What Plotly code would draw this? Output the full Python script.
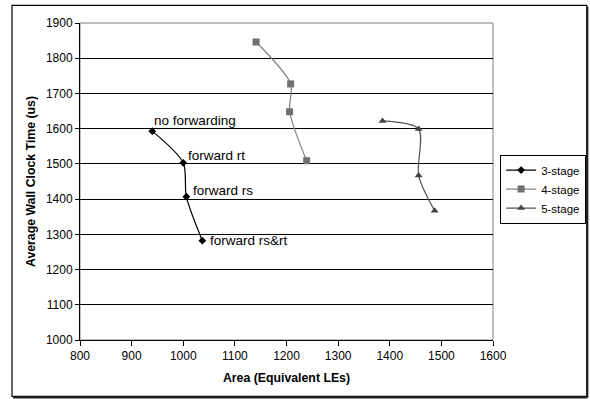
import plotly.graph_objects as go

# Area (equivalent LEs) vs average wall clock time (us) per pipeline depth
area_3stage = [940, 1000, 1006, 1037]
time_3stage = [1593, 1503, 1407, 1282]
labels_3stage = ["no forwarding", "forward rt", "forward rs", "forward rs&rt"]

area_4stage = [1141, 1208, 1206, 1239]
time_4stage = [1846, 1727, 1648, 1509]

area_5stage = [1386, 1456, 1456, 1487]
time_5stage = [1622, 1599, 1467, 1367]

x_ticks = list(range(800, 1601, 100))
y_ticks = list(range(1000, 1901, 100))

FONT = "Liberation Sans, Arial, sans-serif"

fig = go.Figure()

fig.add_trace(go.Scatter(
    x=area_3stage, y=time_3stage, name="3-stage", mode="lines+markers",
    line=dict(color="black", width=1.2, shape="spline", smoothing=0.8),
    marker=dict(symbol="diamond", size=6, color="black"),
))
fig.add_trace(go.Scatter(
    x=area_4stage, y=time_4stage, name="4-stage", mode="lines+markers",
    line=dict(color="#808080", width=1.2, shape="spline", smoothing=0.8),
    marker=dict(symbol="square", size=7, color="#707070"),
))
fig.add_trace(go.Scatter(
    x=area_5stage, y=time_5stage, name="5-stage", mode="lines+markers",
    line=dict(color="#555555", width=1.2, shape="spline", smoothing=0.8),
    marker=dict(symbol="triangle-up", size=7, color="#444444"),
))

# Point labels for the 3-stage variants
label_offsets = [(0, 11), (3, 7), (5, 6), (6, 0)]
for xv, yv, txt, (dx, dy) in zip(area_3stage, time_3stage, labels_3stage, label_offsets):
    fig.add_annotation(
        x=xv, y=yv, text=txt, showarrow=False, xanchor="left", yanchor="middle",
        xshift=dx, yshift=dy, font=dict(family=FONT, size=13.5, color="black"),
    )

# Chart-area frame with a slight shadow on the bottom/right
fig.add_shape(type="rect", xref="paper", yref="paper",
              x0=-0.1646, x1=1.2269, y0=-0.1776, y1=1.0557,
              line=dict(color="black", width=1.2), layer="below")
fig.add_shape(type="line", xref="paper", yref="paper",
              x0=-0.162, x1=1.2285, y0=-0.181, y1=-0.181,
              line=dict(color="#222222", width=2))
fig.add_shape(type="line", xref="paper", yref="paper",
              x0=1.2285, x1=1.2285, y0=-0.181, y1=1.052,
              line=dict(color="#222222", width=2))
# Plot-area border
fig.add_shape(type="rect", xref="paper", yref="paper",
              x0=0, x1=1, y0=0, y1=1,
              line=dict(color="#808080", width=1), layer="below")

fig.update_layout(
    width=590, height=399,
    margin=dict(l=80, r=97, t=23, b=59, autoexpand=False),
    paper_bgcolor="white", plot_bgcolor="white",
    font=dict(family=FONT, size=12, color="black"),
    showlegend=True,
    legend=dict(
        x=1.2255, y=0.585, xanchor="right", yanchor="top",
        bgcolor="white", bordercolor="black", borderwidth=1,
        font=dict(family=FONT, size=11.5, color="black"),
        itemwidth=30, tracegroupgap=0,
    ),
)

fig.update_xaxes(
    range=[800, 1600], tickvals=x_ticks, showgrid=False,
    showline=True, linecolor="black", linewidth=1,
    ticks="outside", ticklen=5, tickcolor="black", tickwidth=1,
    tickfont=dict(size=12), zeroline=False,
    title=dict(text="<b>Area (Equivalent LEs)</b>", font=dict(size=12.3), standoff=10),
)
fig.update_yaxes(
    range=[1000, 1900], tickvals=y_ticks, showgrid=True,
    gridcolor="black", gridwidth=1,
    showline=True, linecolor="black", linewidth=1,
    ticks="outside", ticklen=4, tickcolor="black", tickwidth=1,
    tickfont=dict(size=12), zeroline=False,
    title=dict(text="<b>Average Wall Clock Time (us)</b>", font=dict(size=12.3), standoff=7),
)

fig.write_html("out.html")
